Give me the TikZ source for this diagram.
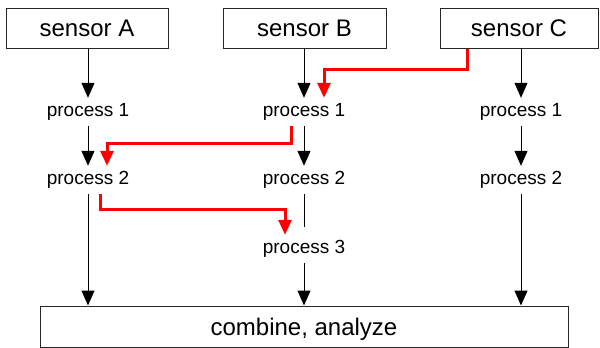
\documentclass[tikz,border=0pt]{standalone}
\usepackage{fontspec}
\setmainfont{Liberation Sans}
\usetikzlibrary{arrows.meta}
\begin{document}
\begin{tikzpicture}[x=1pt,y=-1pt,
  boxnode/.style={draw=black!85,line width=1pt,minimum height=40pt,inner sep=0pt,
    font=\fontsize{24}{28}\selectfont,text height=17pt,text depth=0pt},
  procnode/.style={anchor=base,inner xsep=2pt,inner ysep=4pt,
    font=\fontsize{19}{22}\selectfont,text height=14pt,text depth=6pt},
  flow/.style={draw=black,line width=1pt,-{Triangle[width=13pt,length=15pt]}},
  plain/.style={draw=black,line width=1pt},
  redflow/.style={draw=red,line width=3pt,-{Triangle[width=13pt,length=15pt]}}]
\useasboundingbox (0,0) rectangle (600,348);
% sensors
\node[boxnode,minimum width=162pt] (sA) at (87,28) {sensor A};
\node[boxnode,minimum width=163pt] (sB) at (304.5,28) {sensor B};
\node[boxnode,minimum width=158pt] (sC) at (519,28) {sensor C};
% processes
\node[procnode] (p1a) at (88,116) {process 1};
\node[procnode] (p1b) at (304,116) {process 1};
\node[procnode] (p1c) at (521,116) {process 1};
\node[procnode] (p2a) at (88,184) {process 2};
\node[procnode] (p2b) at (304,184) {process 2};
\node[procnode] (p2c) at (521,184) {process 2};
\node[procnode] (p3b) at (304,253) {process 3};
% combine
\node[boxnode,minimum width=528pt,minimum height=41pt] (comb) at (304,326.5) {combine, analyze};
% black connectors
\draw[flow] (sA.south -| p1a.north) -- (p1a.north);
\draw[flow] (sB.south -| p1b.north) -- (p1b.north);
\draw[flow] (sC.south -| p1c.north) -- (p1c.north);
\draw[flow] (p1a.south) -- (p2a.north);
\draw[flow] (p1b.south) -- (p2b.north);
\draw[flow] (p1c.south) -- (p2c.north);
\draw[plain,shorten >=8pt] (p2b.south) -- (p3b.north);
\draw[flow] (p2a.south) -- (p2a.south |- comb.north);
\draw[flow] (p3b.south) -- (p3b.south |- comb.north);
\draw[flow] (p2c.south) -- (p2c.south |- comb.north);
% red connectors
\coordinate (r1s) at ([xshift=-52pt]sC.south);
\coordinate (r1e) at ([xshift=20pt]p1b.north);
\draw[redflow] (r1s) -- ++(0,21) -| (r1e);
\coordinate (r2s) at ([xshift=-13pt]p1b.south);
\coordinate (r2e) at ([xshift=19pt]p2a.north);
\draw[redflow] (r2s) -- ++(0,17) -| (r2e);
\coordinate (r3s) at ([xshift=12pt]p2a.south);
\coordinate (r3e) at ([xshift=-19pt]p3b.north);
\draw[redflow] (r3s) -- ++(0,15) -| (r3e);
\end{tikzpicture}
\end{document}
